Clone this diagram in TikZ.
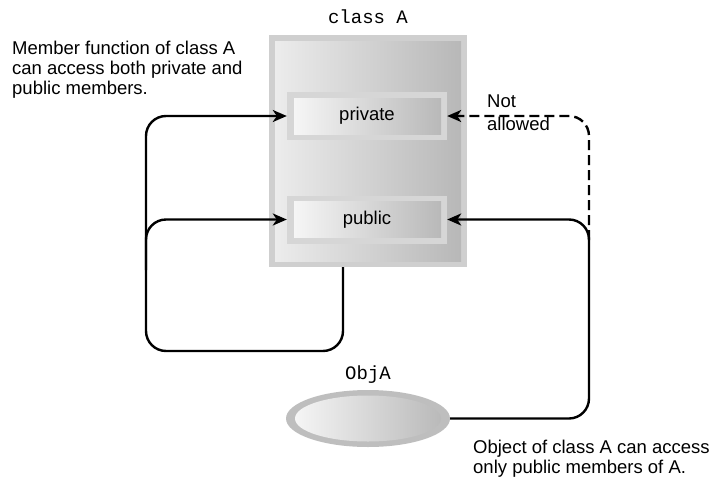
\documentclass[tikz,border=0pt]{standalone}
\usepackage{fontspec}
\setmainfont{Liberation Sans}
\newfontfamily\monof{Liberation Mono}
\usetikzlibrary{arrows.meta,shapes.geometric,calc}
\definecolor{rimA}{HTML}{CFCFCF}
\definecolor{rimB}{HTML}{D6D6D6}
\definecolor{rimC}{HTML}{BEBEBE}
\definecolor{shL}{HTML}{F2F2F2}
\definecolor{shM}{HTML}{C6C6C6}
\definecolor{shR}{HTML}{B6B6B6}
\begin{document}
\begin{tikzpicture}[x=1pt,y=-1pt,
  txt/.style={font=\fontsize{18.5}{20}\selectfont, inner sep=0pt, align=left},
  mono/.style={font=\monof\fontsize{19}{20}\selectfont, inner sep=0pt},
  classbox/.style={draw=none, fill=rimA, minimum width=198pt, minimum height=232pt, inner sep=0pt,
    path picture={\shade[left color=shL!90!shM, middle color=shM, right color=shR]
      ([shift={(6pt,-6pt)}]path picture bounding box.north west) rectangle
      ([shift={(-6pt,6pt)}]path picture bounding box.south east);}},
  membox/.style={draw=none, fill=rimB, minimum width=160pt, minimum height=48pt, inner sep=0pt,
    font=\fontsize{18.5}{20}\selectfont,
    path picture={\shade[left color=white!95!gray, right color=shR]
      ([shift={(7pt,-6pt)}]path picture bounding box.north west) rectangle
      ([shift={(-6pt,6pt)}]path picture bounding box.south east);}},
  objbox/.style={ellipse, draw=none, fill=rimC, minimum width=164pt, minimum height=57pt, inner sep=0pt,
    path picture={\shade[left color=white!95!gray, right color=shR]
      (path picture bounding box.center) ellipse [x radius=73pt, y radius=23pt];}},
  conn/.style={line width=2.4pt, rounded corners=20pt, -{Stealth[length=14pt,width=12pt,inset=4pt]}},
  dconn/.style={conn, dash pattern=on 10pt off 5pt}
]
\useasboundingbox (0,0) rectangle (713,480);
\fill[white] (0,0) rectangle (713,480);

% class box and members
\node[classbox] (classA) at (368,151) {};
\node[membox] (priv) at (367,116) {private};
\node[membox] (pub) at (367,219.5) {public};
\node[objbox] (objA) at (368,418.5) {};

% labels
\node[mono, anchor=base] (classlbl) at (368,23) {class A};
\node[mono, anchor=base] (objlbl) at (368,379) {ObjA};
\node[txt, anchor=base west] (memtxt) at (12,94) {Member function of class A\\can access both private and\\public members.};
\node[txt, anchor=base west, font=\fontsize{18.5}{23}\selectfont] (natxt) at (487,130) {Not\\allowed};
\node[txt, anchor=base west] (objtxt) at (473,473) {Object of class A can access\\only public members of A.};

% helper coordinates
\coordinate (lb) at (146,351);
\coordinate (lbr) at (146,270);
\coordinate (rt) at (589,0);
\coordinate (rd) at (589,240);

% connectors
\draw[conn] ([xshift=-25pt]classA.south) |- (lb) |- (priv.west);
\draw[conn] (lbr) |- (pub.west);
\draw[conn] (objA.east) -| (rt |- pub.east) -- (pub.east);
\draw[dconn] (rd) |- (priv.east);
\end{tikzpicture}
\end{document}
